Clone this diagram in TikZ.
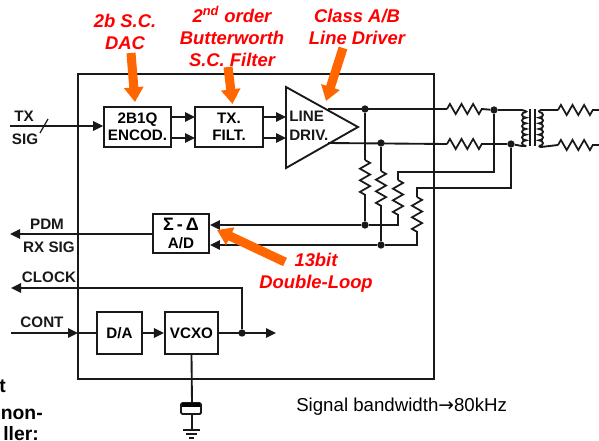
\documentclass[tikz,border=0pt]{standalone}
\usepackage{fontspec}
\setmainfont{Liberation Sans}
\newfontfamily\arrowfont{DejaVu Sans}
\usetikzlibrary{arrows.meta,decorations.pathmorphing,calc}
\definecolor{annotorange}{RGB}{255,102,0}
\tikzset{
  x=0.75pt,y=-0.75pt,
  wire/.style={line width=1.4pt,black!90},
  arr/.style={wire,-{Triangle[length=7.5pt,width=7pt]}},
  blockbox/.style={draw=black!90,line width=1.4pt,fill=white,inner sep=0pt,align=center,font=\fontsize{11.4}{13}\selectfont\bfseries},
  lab/.style={inner sep=0pt,font=\fontsize{11.4}{13}\selectfont\bfseries,text=black!90},
  redlab/.style={inner sep=0pt,align=center,text=red,font=\fontsize{13.8}{16.5}\selectfont\bfseries\itshape},
  orangearr/.style={draw=annotorange,line width=6.8pt,-{Triangle[length=11pt,width=14pt]}},
  res/.style={wire,line width=1.3pt,decorate,decoration={zigzag,segment length=8.7pt,amplitude=3.8pt}},
  dotj/.style={circle,fill=black!90,inner sep=0pt,minimum size=5.5pt},
  croplab/.style={inner sep=0pt,font=\fontsize{14.5}{15}\selectfont\bfseries},
}
\newcommand{\coilstep}[1]{arc[start angle=-90,end angle=90,x radius=#1,y radius=2.83]}
\begin{document}
\begin{tikzpicture}
\useasboundingbox (0,0) rectangle (599,440);
\fill[white] (0,0) rectangle (599,440);
% frame
\node[draw=black!90,line width=1.5pt,minimum width=267pt,minimum height=228.75pt,inner sep=0pt] (frame) at (256,226) {};
% blocks
\node[blockbox,minimum width=50pt,minimum height=30pt] (enc) at (137.5,127) {2B1Q\\ENCOD.};
\node[blockbox,minimum width=51pt,minimum height=30pt] (filt) at (229,127) {TX.\\FILT.};
\coordinate (t1) at (286,87); \coordinate (t2) at (286,168); \coordinate (t3) at (358,127);
\draw[wire,line join=miter] (t1) -- (t3) -- (t2) -- cycle;
\node[lab,anchor=west] (drv1) at (289,116) {LINE};
\node[lab,anchor=west] (drv2) at (289,135) {DRIV.};
\node[blockbox,minimum width=42pt,minimum height=29pt] (ad) at (181,233.5) {{\fontsize{13.5}{15}\selectfont Σ\,-\,Δ}\\A/D};
\node[blockbox,minimum width=34pt,minimum height=31.5pt] (da) at (119.5,333) {D/A};
\node[blockbox,minimum width=40pt,minimum height=31.5pt] (vcxo) at (191.5,333) {VCXO};
% between blocks
\draw[arr] (171,117) -- (195,117);
\draw[arr] (171,138) -- (195,138);
\draw[arr] (263,117) -- (286,117);
\draw[arr] (263,138) -- (286,138);
% TX
\coordinate (txs) at (10,126);
\draw[arr] (txs) -- (enc.west |- txs);
\coordinate (sl1) at (40,133); \coordinate (sl2) at (48,119);
\draw[wire,line width=.9pt] (sl1) -- (sl2);
\node[lab] (tx) at (24,116) {TX};
\node[lab] (sig) at (25,139) {SIG};
% driver outputs
\coordinate (o1) at (328,109); \coordinate (o2) at (328,143);
\coordinate (r1a) at (447,109); \coordinate (r1b) at (482,109);
\coordinate (r2a) at (447,144); \coordinate (r2b) at (482,144);
\node[dotj] (j1) at (365,109) {};
\node[dotj] (j2) at (381,143) {};
\node[dotj] (j3) at (494,110) {};
\node[dotj] (j4) at (511,144) {};
\node[dotj] (j5) at (365,225) {};
\node[dotj] (j6) at (381,245) {};
\draw[wire] (o1) -- (r1a);
\draw[wire] (o2) -- (r2a);
\draw[res] (r1a) -- (r1b);
\draw[res] (r2a) -- (r2b);
\coordinate (cl1) at (526,112); \coordinate (cl2) at (526,146);
\draw[wire] (r1b) -- (j3) -- (522,110) to[out=0,in=0,looseness=1] (cl1);
\draw[wire] (r2b) -- (j4) -- (522,146) to[out=0,in=0,looseness=1] (cl2);
% transformer: left winding bulges left, right winding bulges right
\draw[wire] (cl1) \coilstep{-4} \coilstep{-4} \coilstep{-4} \coilstep{-4} \coilstep{-4} \coilstep{-4};
\draw[wire] (530,109) -- (530,146);
\draw[wire] (535,109) -- (535,146);
\draw[wire] (539,112) \coilstep{4} \coilstep{4} \coilstep{4} \coilstep{4} \coilstep{4} \coilstep{4};
\coordinate (r3a) at (558,110); \coordinate (r3b) at (593,110); \coordinate (e3) at (599,110);
\coordinate (r4a) at (558,145); \coordinate (r4b) at (593,145); \coordinate (e4) at (599,145);
\draw[wire] (539,112) to[out=180,in=180,looseness=1] (541,110) -- (r3a);
\draw[wire] (539,146) to[out=180,in=180,looseness=1] (541,147) -- (r4a);
\draw[res] (r3a) -- (r3b); \draw[wire] (r3b) -- (e3);
\draw[res] (r4a) -- (r4b); \draw[wire] (r4b) -- (e4);
% feedback
\coordinate (ra1) at (365,160); \coordinate (ra2) at (365,195);
\coordinate (rb1) at (381,171); \coordinate (rb2) at (381,206);
\coordinate (rc1) at (398,180); \coordinate (rc2) at (398,215);
\coordinate (rd1) at (417,197); \coordinate (rd2) at (417,232);
\draw[wire] (j1) -- (ra1); \draw[res] (ra1) -- (ra2); \draw[wire] (ra2) -- (j5);
\draw[wire] (j2) -- (rb1); \draw[res] (rb1) -- (rb2); \draw[wire] (rb2) -- (j6);
\draw[wire] (j3) |- (398,172) -- (rc1); \draw[res] (rc1) -- (rc2); \draw[wire] (rc2) -- (398,225) -- (j5);
\draw[wire] (j4) |- (417,188) -- (rd1); \draw[res] (rd1) -- (rd2); \draw[wire] (rd2) -- (417,245) -- (j6);
\draw[arr] (j5) -- (j5 -| ad.east);
\draw[arr] (j6) -- (j6 -| ad.east);
% left signals
\coordinate (pdm) at (10,234);
\draw[arr] (ad.west |- pdm) -- (pdm);
\node[lab] (pl) at (47,224) {PDM};
\node[lab] (rl) at (49,247) {RX SIG};
\node[dotj] (j7) at (242,333) {};
\coordinate (ck) at (242,288); \coordinate (cke) at (11,288);
\draw[arr] (j7) -- (ck) -- (cke);
\node[lab] (cl) at (49,277) {CLOCK};
\coordinate (cs) at (11,333);
\node[lab] (cn) at (42,322) {CONT};
\draw[arr] (cs) -- (78,333);
\draw[wire] (78,333) -- (da.west);
\draw[arr] (da.east) -- (vcxo.west);
\coordinate (vo) at (276,333);
\draw[arr] (vcxo.east) -- (vo);
% crystal
\coordinate (c1) at (192,404); \coordinate (c2) at (192,430);
\draw[wire] (vcxo.south) -- (c1);
\draw[wire,rounded corners=1pt] (181,403) rectangle (201,414);
\draw[line width=3pt] (182,404.5) -- (200,404.5);
\draw[wire] (192,414) -- (c2);
\draw[wire] (183,430) -- (200,430);
\draw[wire] (186,434) -- (197,434);
\draw[wire] (189,438) -- (194,438);
% annotations
\node[redlab] (l1) at (125,32) {2b S.C.\\DAC};
\node[redlab] (l2) at (232,36) {2\textsuperscript{nd} order\\Butterworth\\S.C. Filter};
\node[redlab] (l3) at (357,27) {Class A/B\\Line Driver};
\node[redlab] (l4) at (316,272.5) {13bit\\Double-Loop};
\draw[orangearr] (131,53) -- (135,102);
\draw[orangearr] (228,67) -- (232.5,104);
\draw[orangearr] (343,48) -- (326,101);
\draw[orangearr] (285,262) -- (217,230);
% notes
\node[inner sep=0pt,anchor=west,font=\fontsize{14}{15}\selectfont] (note) at (296,407) {Signal bandwidth{\arrowfont→}80kHz};
\node[croplab,anchor=west] (b1) at (-1,386) {t};
\node[croplab,anchor=east] (b2) at (43,414) {non-};
\node[croplab,anchor=east] (b3) at (39,434) {ller:};
\end{tikzpicture}
\end{document}
